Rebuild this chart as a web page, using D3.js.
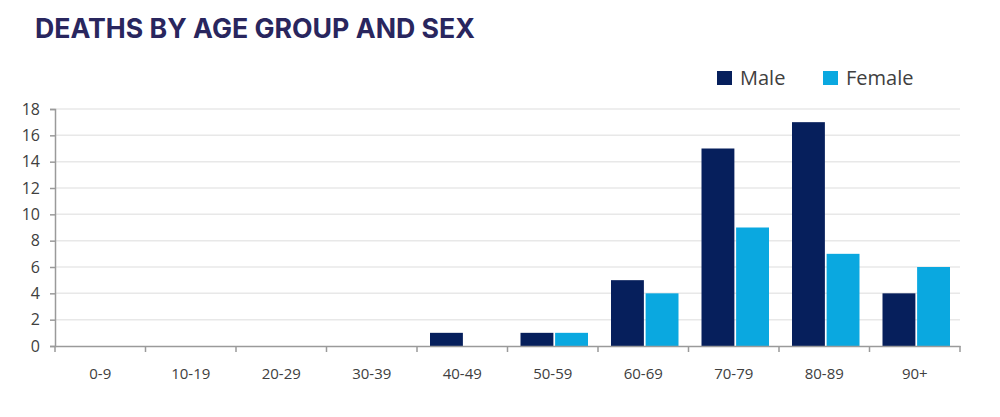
<!DOCTYPE html>
<html>
<head>
<meta charset="utf-8">
<script src="https://cdn.jsdelivr.net/npm/d3@7"></script>
<style>
    * { margin: 0; padding: 0; box-sizing: border-box; }
    body { width: 1000px; height: 417px; background: #fff; overflow: hidden; }
    svg { display: block; }
</style>
</head>
<body>
<svg id="chart" width="1000" height="417"></svg>
<script>
// data
const ageGroups = ['0-9', '10-19', '20-29', '30-39', '40-49', '50-59', '60-69', '70-79', '80-89', '90+'];
const male = [0, 0, 0, 0, 1, 1, 5, 15, 17, 4];
const female = [0, 0, 0, 0, 0, 1, 4, 9, 7, 6];
const yTicks = [0, 2, 4, 6, 8, 10, 12, 14, 16, 18];
const seriesNames = ['Male', 'Female'];
const colors = ['#061f5c', '#0aa8e0'];

const svg = d3.select('#chart');
const margin = { top: 109, right: 40, bottom: 71, left: 55 };
const width = 1000 - margin.left - margin.right;
const height = 417 - margin.top - margin.bottom;

svg.append('text')
    .attr('x', 35)
    .attr('y', 38)
    .attr('textLength', 440)
    .attr('lengthAdjust', 'spacingAndGlyphs')
    .style('font-family', 'Inter, "Noto Sans", sans-serif')
    .style('font-weight', 700)
    .style('font-size', '27px')
    .style('fill', '#29265e')
    .text('DEATHS BY AGE GROUP AND SEX');

const g = svg.append('g').attr('transform', `translate(${margin.left},${margin.top})`);

const x = d3.scaleBand().domain(ageGroups).range([0, width]).paddingInner(0).paddingOuter(0);
const x1 = d3.scaleBand().domain(seriesNames).range([13, x.bandwidth() - 10]).paddingInner(0.05);
const y = d3.scaleLinear().domain([0, 18]).range([height, 0]);

// gridlines
g.append('g')
    .selectAll('line')
    .data(yTicks.filter(d => d > 0))
    .enter()
    .append('line')
    .attr('x1', 0)
    .attr('x2', width)
    .attr('y1', d => y(d))
    .attr('y2', d => y(d))
    .attr('stroke', '#e8e8e8')
    .attr('stroke-width', 1.5);

// bars
const rows = ageGroups.map((a, i) => ({ age: a, values: [male[i], female[i]] }));
const groups = g.append('g')
    .selectAll('g')
    .data(rows)
    .enter()
    .append('g')
    .attr('transform', d => `translate(${x(d.age)},0)`);

groups.selectAll('rect')
    .data(d => d.values.map((v, k) => ({ key: seriesNames[k], value: v, k })))
    .enter()
    .append('rect')
    .attr('x', d => x1(d.key))
    .attr('width', x1.bandwidth())
    .attr('y', d => y(d.value))
    .attr('height', d => y(0) - y(d.value))
    .attr('fill', d => colors[d.k]);

// y axis
const yAxis = g.append('g')
    .call(d3.axisLeft(y).tickValues(yTicks).tickSize(5).tickPadding(10));
yAxis.select('.domain').attr('stroke', '#9a9a9a').attr('stroke-width', 1.5);
yAxis.selectAll('.tick line').attr('stroke', '#9a9a9a').attr('stroke-width', 1.5);
yAxis.selectAll('text')
    .style('font-family', '"Open Sans", "Liberation Sans", sans-serif')
    .style('font-size', '16px')
    .style('fill', '#404040');

// x axis
const xAxis = g.append('g')
    .attr('transform', `translate(0,${height})`)
    .call(d3.axisBottom(x).tickSize(0).tickPadding(22));
xAxis.select('.domain').attr('stroke', '#9a9a9a').attr('stroke-width', 1.5);
xAxis.selectAll('text')
    .style('font-family', '"Open Sans", "Liberation Sans", sans-serif')
    .style('font-size', '15px')
    .style('fill', '#404040');

// category separators below the x axis
g.append('g')
    .selectAll('line')
    .data(ageGroups.concat(['end']))
    .enter()
    .append('line')
    .attr('x1', (d, i) => i * x.step())
    .attr('x2', (d, i) => i * x.step())
    .attr('y1', height)
    .attr('y2', height + 6)
    .attr('stroke', '#9a9a9a')
    .attr('stroke-width', 1.5);

// legend
const legendX = [717, 823];
const legend = svg.append('g')
    .selectAll('g')
    .data(seriesNames)
    .enter()
    .append('g')
    .attr('transform', (d, i) => `translate(${legendX[i]},71)`);
legend.append('rect')
    .attr('width', 15)
    .attr('height', 14)
    .attr('fill', (d, i) => colors[i]);
legend.append('text')
    .attr('x', 23)
    .attr('y', 14)
    .style('font-family', '"Open Sans", "Liberation Sans", sans-serif')
    .style('font-size', '20px')
    .style('fill', '#404040')
    .text(d => d);
</script>
</body>
</html>
